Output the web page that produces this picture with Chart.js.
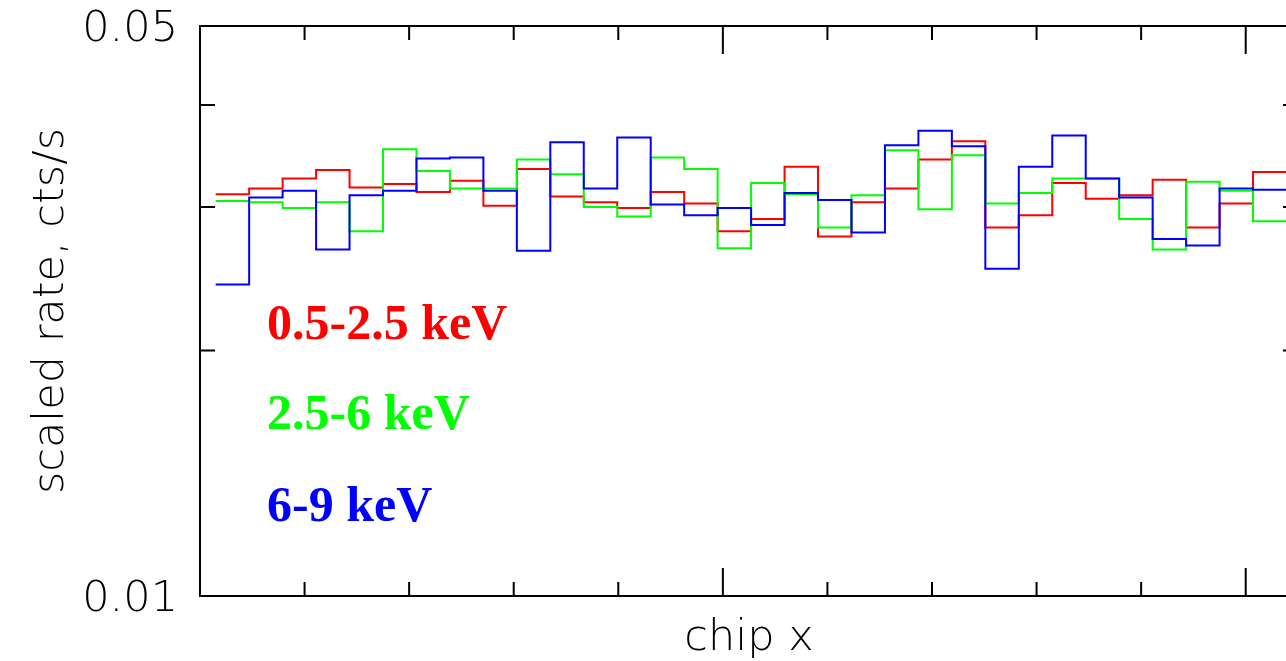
<!DOCTYPE html>
<html lang="en">
<head>
    <meta charset="UTF-8">
    <title>Scaled rate vs chip x</title>
    <script src="https://cdn.jsdelivr.net/npm/chart.js"></script>
    <style>
        html, body { margin: 0; padding: 0; background: #fff; overflow: hidden; }
        .wrap { width: 1310px; height: 661px; position: relative; }
    </style>
</head>
<body>
    <div class="wrap">
        <canvas id="rateChart"></canvas>
    </div>

    <script>
        // bin edges in chip x (32 px bins)
        const binEdges = [15, 47, 79, 111, 143, 175, 207, 239, 271, 303, 335, 367, 399, 431, 463, 495,
                          527, 559, 591, 623, 655, 687, 719, 751, 783, 815, 847, 879, 911, 943, 975, 1007, 1039];

        const softRate = [0.0311, 0.0316, 0.0325, 0.0333, 0.0317, 0.0320, 0.0313, 0.0323, 0.0301, 0.0334,
                          0.0309, 0.0304, 0.0299, 0.0313, 0.0303, 0.0280, 0.0290, 0.0336, 0.0276, 0.0304,
                          0.0316, 0.0343, 0.0361, 0.0283, 0.0293, 0.0321, 0.0307, 0.0310, 0.0324, 0.0283,
                          0.0303, 0.0331];
        const mediumRate = [0.0305, 0.0304, 0.0299, 0.0304, 0.0280, 0.0353, 0.0332, 0.0316, 0.0316, 0.0343,
                            0.0329, 0.0300, 0.0292, 0.0345, 0.0334, 0.0267, 0.0321, 0.0311, 0.0283, 0.0310,
                            0.0352, 0.0298, 0.0347, 0.0303, 0.0312, 0.0325, 0.0325, 0.0290, 0.0266, 0.0322,
                            0.0314, 0.0288];
        const hardRate = [0.0241, 0.0308, 0.0314, 0.0266, 0.0310, 0.0314, 0.0344, 0.0345, 0.0314, 0.0265,
                          0.0360, 0.0316, 0.0365, 0.0302, 0.0293, 0.0299, 0.0285, 0.0312, 0.0306, 0.0279,
                          0.0357, 0.0372, 0.0356, 0.0252, 0.0336, 0.0367, 0.0325, 0.0308, 0.0274, 0.0269,
                          0.0316, 0.0315];

        const bandLabels = ['0.5-2.5 keV', '2.5-6 keV', '6-9 keV'];
        const bandColors = ['#ff0000', '#00ff00', '#0000ff'];

        const xTicks = [0, 100, 200, 300, 400, 500, 600, 700, 800, 900, 1000];
        const xMajor = [0, 500, 1000];
        const yTicks = [0.01, 0.02, 0.03, 0.04, 0.05];
        const yLabelled = [0.01, 0.05];

        // histogram points: left edge of each bin, plus closing point at the last edge
        function steps(vals) {
            const pts = vals.map((v, i) => ({ x: binEdges[i], y: v }));
            pts.push({ x: binEdges[vals.length], y: vals[vals.length - 1] });
            return pts;
        }

        const frameTicks = {
            id: 'frameTicks',
            afterDatasetsDraw(chart) {
                const { ctx, chartArea: a, scales: { x, y } } = chart;
                ctx.save();
                ctx.strokeStyle = '#000';
                ctx.lineWidth = 2;
                ctx.strokeRect(a.left, a.top, a.right - a.left, a.bottom - a.top);
                ctx.beginPath();
                xTicks.forEach(v => {
                    const px = x.getPixelForValue(v);
                    const len = xMajor.includes(v) ? 28 : 14;
                    ctx.moveTo(px, a.bottom); ctx.lineTo(px, a.bottom - len);
                    ctx.moveTo(px, a.top); ctx.lineTo(px, a.top + len);
                });
                yTicks.forEach(v => {
                    const py = y.getPixelForValue(v);
                    const len = yLabelled.includes(v) ? 30 : 15;
                    ctx.moveTo(a.left, py); ctx.lineTo(a.left + len, py);
                    ctx.moveTo(a.right, py); ctx.lineTo(a.right - len, py);
                });
                ctx.stroke();

                // band labels
                ctx.font = 'bold 50px "Liberation Serif", "Times New Roman", serif';
                ctx.textBaseline = 'alphabetic';
                ctx.textAlign = 'left';
                const baselines = [339, 429, 521];
                bandLabels.forEach((t, i) => {
                    ctx.fillStyle = bandColors[i];
                    ctx.fillText(t, 267, baselines[i]);
                });
                ctx.restore();
            }
        };

        const axisFont = { family: '"DejaVu Sans", sans-serif', size: 43, weight: '200' };

        new Chart(document.getElementById('rateChart'), {
            type: 'line',
            data: {
                datasets: [softRate, mediumRate, hardRate].map((vals, i) => ({
                    label: bandLabels[i],
                    data: steps(vals),
                    borderColor: bandColors[i],
                    borderWidth: 2,
                    pointRadius: 0,
                    fill: false,
                    stepped: true,
                    order: 2 - i
                }))
            },
            options: {
                responsive: true,
                maintainAspectRatio: false,
                animation: false,
                layout: { padding: { top: 26, right: 12, left: 0, bottom: 0 } },
                plugins: {
                    legend: { display: false },
                    tooltip: { enabled: false }
                },
                scales: {
                    x: {
                        type: 'linear',
                        min: 0,
                        max: 1050,
                        afterBuildTicks: s => { s.ticks = xTicks.map(v => ({ value: v })); },
                        afterFit: s => { s.height = 65; s.paddingLeft = 0; s.paddingRight = 0; },
                        grid: { display: false },
                        border: { display: false },
                        ticks: { display: false },
                        title: {
                            display: true,
                            text: 'chip x',
                            color: '#000',
                            font: axisFont,
                            padding: { top: 0, bottom: -4 }
                        }
                    },
                    y: {
                        type: 'logarithmic',
                        min: 0.01,
                        max: 0.05,
                        afterBuildTicks: s => { s.ticks = yTicks.map(v => ({ value: v })); },
                        afterFit: s => { s.width = 200; s.paddingTop = 0; s.paddingBottom = 0; },
                        grid: { display: false },
                        border: { display: false },
                        ticks: {
                            autoSkip: false,
                            padding: 14,
                            labelOffset: 4,
                            color: '#000',
                            font: { family: '"DejaVu Sans", sans-serif', size: 43, weight: '200' },
                            callback: v => yLabelled.includes(v) ? String(v) : ''
                        },
                        title: {
                            display: true,
                            text: 'scaled rate, cts/s',
                            color: '#000',
                            font: axisFont,
                            padding: { top: 26, bottom: 0 }
                        }
                    }
                }
            },
            plugins: [frameTicks]
        });
    </script>
</body>
</html>
